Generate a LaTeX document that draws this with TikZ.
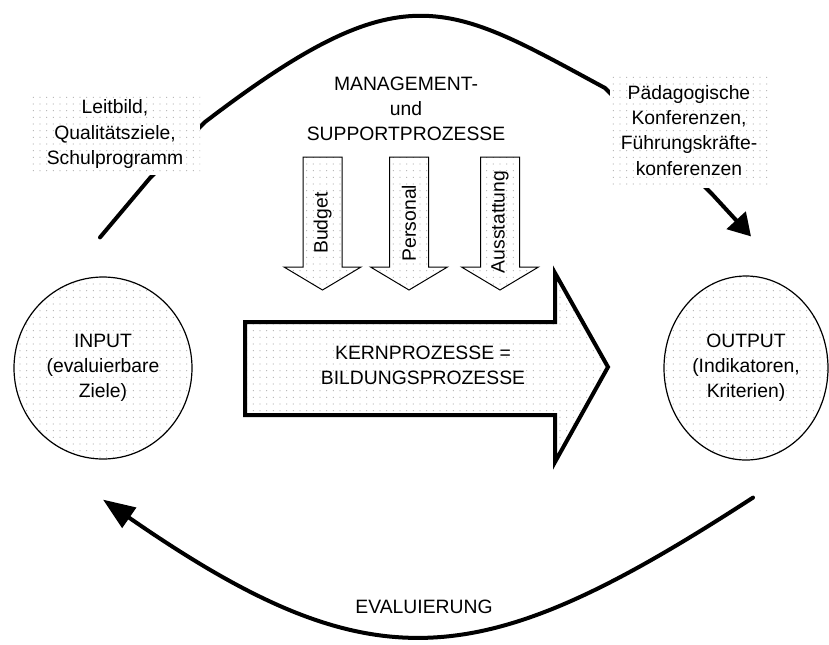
\documentclass[tikz,border=0pt]{standalone}
\usepackage{fontspec}
\setmainfont{Liberation Sans}
\usetikzlibrary{arrows.meta, calc, patterns.meta, shapes.geometric}

\begin{document}
\begin{tikzpicture}[
    x=0.75pt, y=-0.75pt,
    speckle/.style={
        preaction={fill=white},
        pattern={Dots[distance=5pt, radius=0.45pt]}, pattern color=black!30
    },
    goal/.style={ellipse, draw, line width=0.9pt, speckle, align=center, inner sep=0pt},
    note/.style={speckle, align=center, inner sep=0pt},
    core/.style={draw, line width=3pt, line join=miter, speckle},
    supp/.style={draw, line width=0.75pt, speckle},
    flow/.style={line width=3pt, line cap=round, line join=round},
    lbl/.style={align=center, inner sep=0pt},
    every node/.style={font=\fontsize{14.5pt}{18.8pt}\selectfont}
]
\useasboundingbox (0,0) rectangle (829,644);

% --- INPUT (left) / OUTPUT (right) ---
\node[goal, minimum width=133.5pt, minimum height=136.5pt] (in) at (103,368)
    {INPUT\\(evaluierbare\\Ziele)};
\node[goal, minimum width=123pt, minimum height=138pt] (out) at (746,368)
    {OUTPUT\\(Indikatoren,\\Kriterien)};

% --- upper loop: INPUT -> OUTPUT (hidden behind the notes) ---
\draw[flow, -{Triangle[length=16.5pt, width=19pt]}]
    ($(in.north)+(-3,-39)$) -- (150,178) -- (205,122)
    .. controls (404,-30) and (446,2) .. (605,88)
    -- (712,194) -- ($(out.north)+(5,-39)$);

% --- lower loop: OUTPUT -> INPUT ---
\draw[flow, -{Triangle[length=24pt, width=18pt]}]
    ($(out.south)+(7,37)$) .. controls (481,674) and (375,688) .. ($(in.south)+(0,40)$);
\node[lbl] (ev) at (424,607) {EVALUIERUNG};

% --- notes on the upper loop ---
\node[note, minimum width=127.5pt, minimum height=61.5pt] (lb) at (115,134)
    {Leitbild,\\Qualitätsziele,\\Schulprogramm};
\node[note, minimum width=118.5pt, minimum height=86.25pt] (pk) at (689,130.5)
    {Pädagogische\\Konferenzen,\\Führungskräfte-\\konferenzen};

% --- management and support (top center) ---
\node[lbl] (ms) at (406,109) {MANAGEMENT-\\und\\SUPPORTPROZESSE};

\draw[supp] (303,157) -- (342,157) -- (342,267) -- (361,267) -- (322.5,290)
    -- (284,267) -- (303,267) -- cycle;
\node[lbl, rotate=90] (bud) at (322.5,223) {Budget};

\draw[supp] (389.5,157) -- (428.5,157) -- (428.5,267) -- (447.5,267) -- (409,290)
    -- (370.5,267) -- (389.5,267) -- cycle;
\node[lbl, rotate=90] (pers) at (409,223) {Personal};

\draw[supp] (480.5,157) -- (519.5,157) -- (519.5,267) -- (538.5,267) -- (500,290)
    -- (461.5,267) -- (480.5,267) -- cycle;
\node[lbl, rotate=90] (aus) at (500,222) {Ausstattung};

% --- core processes (big arrow) ---
\draw[core] (245,322) -- (555,322) -- (555,273) -- (608,367) -- (555,462)
    -- (555,415) -- (245,415) -- cycle;
\node[lbl] (kp) at (423,365) {KERNPROZESSE =\\BILDUNGSPROZESSE};

\end{tikzpicture}
\end{document}
